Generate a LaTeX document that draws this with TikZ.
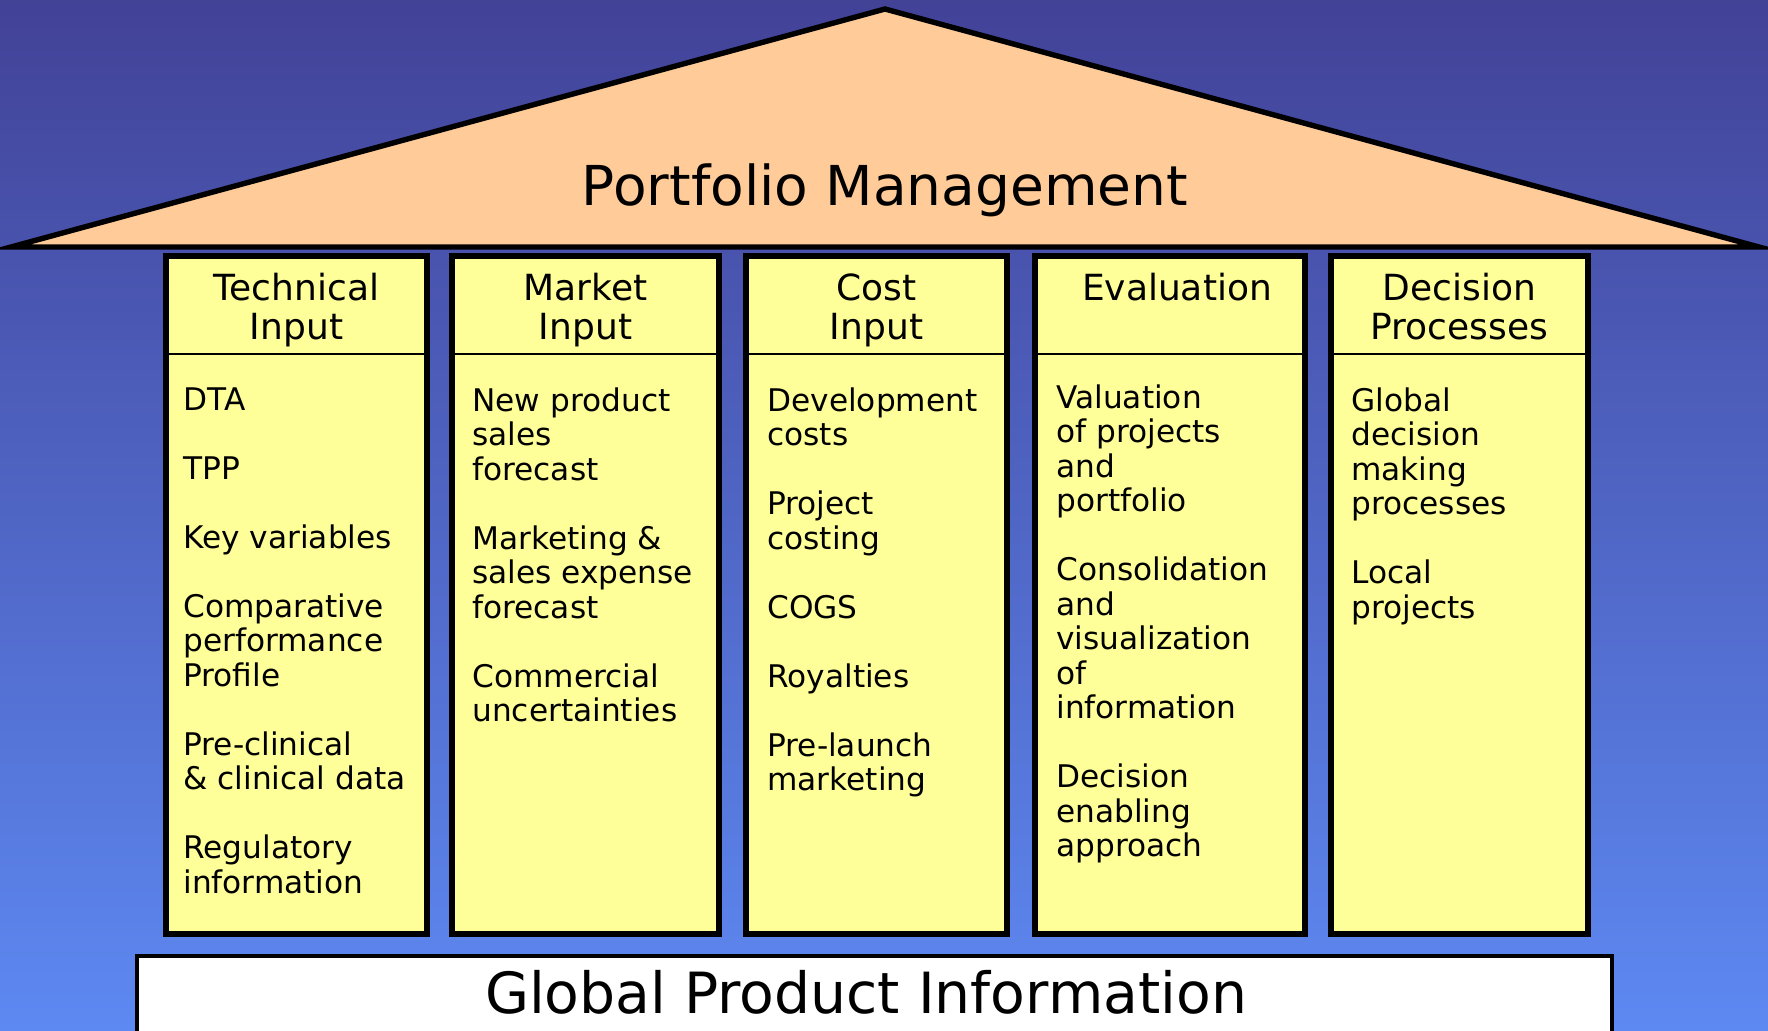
\documentclass[tikz,border=0pt]{standalone}
\usepackage{fontspec}
\setmainfont{DejaVu Sans}
\usetikzlibrary{positioning}

\definecolor{skytop}{RGB}{66,66,151}
\definecolor{skybottom}{RGB}{93,137,242}
\definecolor{roofpeach}{RGB}{255,204,153}
\definecolor{pillaryellow}{RGB}{255,255,153}

\begin{document}
\begin{tikzpicture}[x=0.5pt,y=-0.5pt,line join=miter]
\tikzstyle{pillar}=[draw,fill=pillaryellow,line width=2.6pt,outer sep=0pt,inner sep=0pt,anchor=north west]
\tikzstyle{head}=[anchor=north,inner sep=0pt,align=center,font=\fontsize{18}{19.6}\selectfont]
\tikzstyle{items}=[anchor=north west,inner sep=0pt,align=left,font=\fontsize{15.6}{17.25}\selectfont]
\tikzstyle{big}=[inner sep=0pt,anchor=base,font=\fontsize{27.5}{30}\selectfont]

\useasboundingbox (0,0) rectangle (1768,1030);
\clip (0,0) rectangle (1768,1030);
\shade[top color=skytop,bottom color=skybottom] (0,0) rectangle (1768,1030);

\draw[fill=roofpeach,line width=2.7pt] (11,247) -- (885,9) -- (1759,247) -- cycle;
\node[big] (roof) at (885,205) {Portfolio Management};

\foreach \name/\l/\r in {tech/166/427,market/452/719,cost/746/1007,eval/1035/1305,decision/1331/1588}{
	\node[pillar,minimum width={(\r-\l)*0.5pt},minimum height=339pt] (\name) at (\l,256) {};
	\draw[line width=1.3pt] (\name.west |- 0,354) -- (\name.east |- 0,354);
}

\node[head] (tech-head)		at (tech.north |- 0,273)		{Technical\\Input};
\node[head] (market-head)	at (market.north |- 0,273)	{Market\\Input};
\node[head] (cost-head)		at (cost.north |- 0,273)		{Cost\\Input};
\node[head,xshift=3.5pt] (eval-head)	at (eval.north |- 0,273)	{Evaluation};
\node[head] (decision-head)	at (decision.north |- 0,273)	{Decision\\Processes};

\node[items] (tech-list) at (183,387) {DTA\\[17.25pt]TPP\\[17.25pt]Key variables\\[17.25pt]Comparative\\performance\\Profile\\[17.25pt]Pre-clinical\\\& clinical data\\[17.25pt]Regulatory\\information};
\node[items] (market-list) at (472,387) {New product\\sales\\forecast\\[17.25pt]Marketing \&\\sales expense\\forecast\\[17.25pt]Commercial\\uncertainties};
\node[items] (cost-list) at (767,387) {Development\\costs\\[17.25pt]Project\\costing\\[17.25pt]COGS\\[17.25pt]Royalties\\[17.25pt]Pre-launch\\marketing};
\node[items] (eval-list) at (1056,384) {Valuation\\of projects\\and\\portfolio\\[17.25pt]Consolidation\\and\\visualization\\of\\information\\[17.25pt]Decision\\enabling\\approach};
\node[items] (decision-list) at (1351,387) {Global\\decision\\making\\processes\\[17.25pt]Local\\projects};

\node[draw,fill=white,line width=2.2pt,outer sep=0pt,inner sep=0pt,anchor=north west,minimum width=737.5pt,minimum height=60pt] (base) at (137,956) {};
\node[big,font=\fontsize{28.4}{30}\selectfont] (base-label) at (866,1013) {Global Product Information};

\end{tikzpicture}
\end{document}
